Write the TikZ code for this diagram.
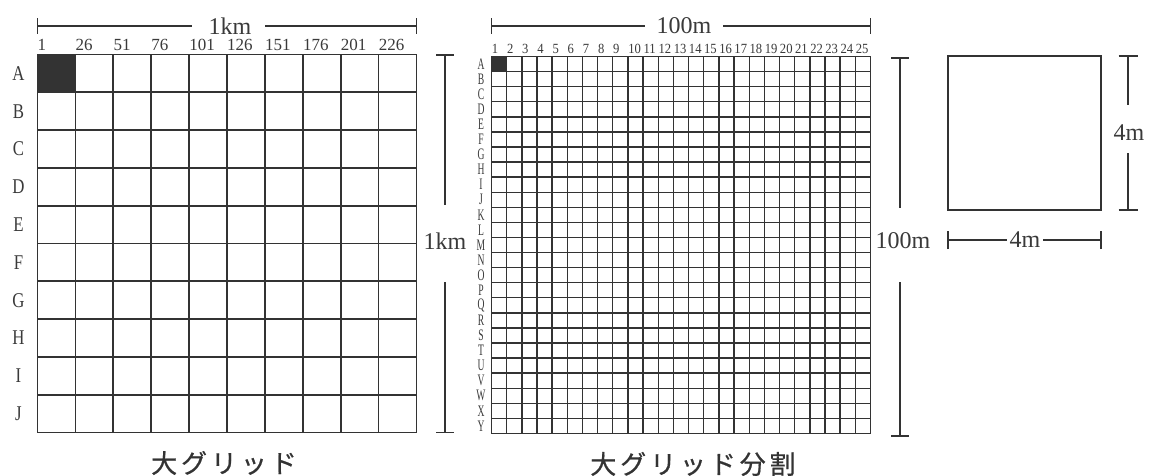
\documentclass[tikz,border=0pt]{standalone}
\usepackage{fontspec}
\usepackage{graphicx}
\setmainfont{Liberation Serif}
\newfontfamily\cjkfont[LetterSpace=15,FakeBold=0.6]{Noto Sans CJK JP}
\definecolor{ink}{HTML}{333333}
\definecolor{txt}{HTML}{3a3a3a}
\begin{document}
\begin{tikzpicture}[x=1pt,y=-1pt,
  gridline/.style={line width=1.7pt, draw=ink},
  fineline/.style={line width=1.4pt, draw=ink},
  dimline/.style={line width=1.2pt, draw=ink},
  bigtxt/.style={font=\fontsize{24}{24}\selectfont, text=txt, inner sep=0pt},
  colA/.style={font=\fontsize{17}{17}\selectfont, text=txt, anchor=base west, inner sep=0pt},
  rowA/.style={font=\fontsize{21}{21}\selectfont, text=txt, inner sep=0pt},
  colB/.style={font=\fontsize{14}{14}\selectfont, text=txt, anchor=base west, inner sep=0pt},
  rowB/.style={font=\fontsize{16}{16}\selectfont, text=txt, inner sep=0pt},
  captxt/.style={font=\cjkfont\fontsize{26}{26}\selectfont, text=ink, inner sep=0pt}
]
\useasboundingbox (0,0) rectangle (1150,476);
\fill[white] (0,0) rectangle (1150,476);

% ---------- left big grid ----------
\fill[ink] (37.5,54.5) rectangle (75.4,92.3);
\foreach \i in {0,...,10} {
  \draw[gridline] ({37.5+\i*37.9},54.5) -- ({37.5+\i*37.9},432.5);
  \draw[gridline] (37.5,{54.5+\i*37.8}) -- (416.5,{54.5+\i*37.8});
}
\foreach \i in {0,...,9} {
  \pgfmathtruncatemacro\n{1+25*\i}
  \node[colA] (cA\i) at ({37.5+\i*37.9},51) {\n};
}
\foreach \l [count=\i from 0] in {A,B,C,D,E,F,G,H,I,J}
  \node[rowA] (rA\i) at (18.5,{54.5+(\i+0.5)*37.8}) {\scalebox{0.8}[1]{\l}};

% top dimension 1km
\node[bigtxt] (kmTop) at (230,26) {1km};
\coordinate (kTL) at (37.5,26);
\coordinate (kTR) at (416.5,26);
\coordinate (kTa) at (192,26);
\coordinate (kTb) at (265,26);
\draw[dimline] (kTL) -- (kTa);
\draw[dimline] (kTb) -- (kTR);
\draw[dimline] ([yshift=-8]kTL) -- ([yshift=8]kTL);
\draw[dimline] ([yshift=-8]kTR) -- ([yshift=8]kTR);

% vertical dimension 1km
\node[bigtxt] (kmSide) at (445,241) {1km};
\coordinate (kVT) at (445,55);
\coordinate (kVB) at (445,432.5);
\coordinate (kVa) at (445,205);
\coordinate (kVb) at (445,282);
\draw[dimline] (kVT) -- (kVa);
\draw[dimline] (kVb) -- (kVB);
\draw[dimline] ([xshift=-9]kVT) -- ([xshift=9]kVT);
\draw[dimline] ([xshift=-9]kVB) -- ([xshift=9]kVB);

% ---------- middle grid ----------
\fill[ink] (491.5,56.5) rectangle (506.66,71.58);
\foreach \i in {0,...,25} {
  \draw[fineline] ({491.5+\i*15.16},56.5) -- ({491.5+\i*15.16},433.5);
  \draw[fineline] (491.5,{56.5+\i*15.08}) -- (870.5,{56.5+\i*15.08});
}
\foreach \i in {1,...,25}
  \node[colB] (cB\i) at ({491.5+(\i-1)*15.16+0.2},54) {\scalebox{0.9}[1]{\i}};
\foreach \l [count=\i from 0] in {A,B,C,D,E,F,G,H,I,J,K,L,M,N,O,P,Q,R,S,T,U,V,W,X,Y}
  \node[rowB] (rB\i) at (481,{56.5+(\i+0.5)*15.08}) {\scalebox{0.6}[1]{\l}};

% top dimension 100m
\node[bigtxt] (mTop) at (684,26) {100m};
\coordinate (mTL) at (491.5,26);
\coordinate (mTR) at (870.5,26);
\coordinate (mTa) at (645,26);
\coordinate (mTb) at (723,26);
\draw[dimline] (mTL) -- (mTa);
\draw[dimline] (mTb) -- (mTR);
\draw[dimline] ([yshift=-8]mTL) -- ([yshift=8]mTL);
\draw[dimline] ([yshift=-8]mTR) -- ([yshift=8]mTR);

% vertical dimension 100m
\node[bigtxt] (mSide) at (903,241) {100m};
\coordinate (mVT) at (900,58);
\coordinate (mVB) at (900,436);
\coordinate (mVa) at (900,208);
\coordinate (mVb) at (900,282);
\draw[dimline] (mVT) -- (mVa);
\draw[dimline] (mVb) -- (mVB);
\draw[dimline] ([xshift=-9]mVT) -- ([xshift=9]mVT);
\draw[dimline] ([xshift=-9]mVB) -- ([xshift=9]mVB);

% ---------- right square ----------
\draw[fineline] (948,56) rectangle (1101,210);

\node[bigtxt] (fourV) at (1129,133) {4m};
\coordinate (fVT) at (1128,56);
\coordinate (fVB) at (1128,210);
\coordinate (fVa) at (1128,105);
\coordinate (fVb) at (1128,153);
\draw[dimline] (fVT) -- (fVa);
\draw[dimline] (fVb) -- (fVB);
\draw[dimline] ([xshift=-9.5]fVT) -- ([xshift=9.5]fVT);
\draw[dimline] ([xshift=-9.5]fVB) -- ([xshift=9.5]fVB);

\node[bigtxt] (fourH) at (1025,240) {4m};
\coordinate (fHL) at (948,240);
\coordinate (fHR) at (1101,240);
\coordinate (fHa) at (1007,240);
\coordinate (fHb) at (1043,240);
\draw[dimline] (fHL) -- (fHa);
\draw[dimline] (fHb) -- (fHR);
\draw[dimline] ([yshift=-9]fHL) -- ([yshift=9]fHL);
\draw[dimline] ([yshift=-9]fHR) -- ([yshift=9]fHR);

% ---------- captions ----------
\node[captxt] (capL) at (224,463) {大グリッド};
\node[captxt] (capM) at (693,464) {大グリッド分割};
\end{tikzpicture}
\end{document}
